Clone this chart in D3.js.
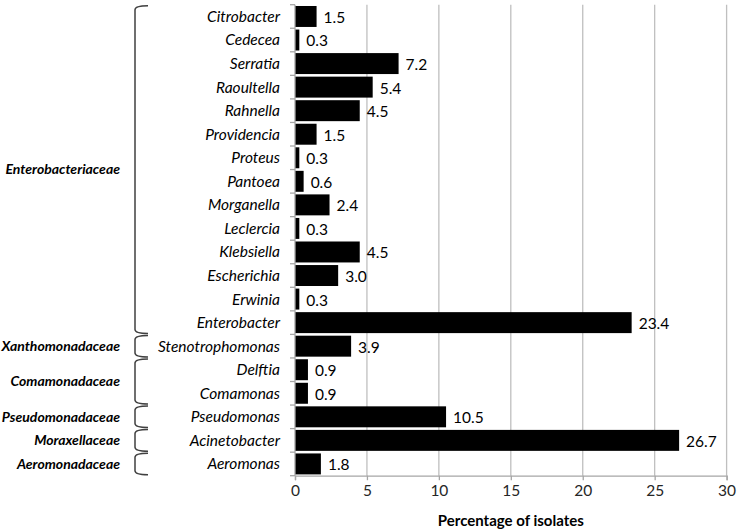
<!DOCTYPE html>
<html>
<head>
<meta charset="utf-8">
<script src="https://cdn.jsdelivr.net/npm/d3@7"></script>
<style>
  body { margin: 0; background: #fff; }
  svg { display: block; font-family: Lato, "Open Sans", sans-serif; }
</style>
</head>
<body>
<svg id="chart" width="737" height="531"></svg>
<script>
// Genera, top to bottom, and their percentage of isolates
const genera = [
  'Citrobacter', 'Cedecea', 'Serratia', 'Raoultella', 'Rahnella', 'Providencia',
  'Proteus', 'Pantoea', 'Morganella', 'Leclercia', 'Klebsiella', 'Escherichia',
  'Erwinia', 'Enterobacter', 'Stenotrophomonas', 'Delftia', 'Comamonas',
  'Pseudomonas', 'Acinetobacter', 'Aeromonas'
];
const percentages = [
  1.5, 0.3, 7.2, 5.4, 4.5, 1.5, 0.3, 0.6, 2.4, 0.3, 4.5, 3.0,
  0.3, 23.4, 3.9, 0.9, 0.9, 10.5, 26.7, 1.8
];
const valueLabels = [
  '1.5', '0.3', '7.2', '5.4', '4.5', '1.5', '0.3', '0.6', '2.4', '0.3', '4.5', '3.0',
  '0.3', '23.4', '3.9', '0.9', '0.9', '10.5', '26.7', '1.8'
];

// Families and how many genera (consecutive rows) each covers
const families = [
  'Enterobacteriaceae', 'Xanthomonadaceae', 'Comamonadaceae',
  'Pseudomonadaceae', 'Moraxellaceae', 'Aeromonadaceae'
];
const familySizes = [14, 1, 2, 1, 1, 1];

const xTicks = [0, 5, 10, 15, 20, 25, 30];
const xTitle = 'Percentage of isolates';

const svg = d3.select('#chart');
const margin = { top: 4.7, right: 10, bottom: 55.3, left: 295 };
const width = 737, height = 531;
const plotRight = 726.6;
const plotBottom = height - margin.bottom;

const x = d3.scaleLinear()
  .domain([0, 30])
  .range([margin.left, plotRight]);

const y = d3.scaleBand()
  .domain(genera)
  .range([margin.top, plotBottom])
  .paddingInner(0.11)
  .paddingOuter(0.055);

const step = y.step();
const rowTop = i => margin.top + i * step;

// Vertical gridlines
svg.append('g')
  .selectAll('line')
  .data(xTicks.filter(d => d > 0))
  .enter()
  .append('line')
  .attr('x1', d => x(d))
  .attr('x2', d => x(d))
  .attr('y1', margin.top)
  .attr('y2', plotBottom)
  .attr('stroke', '#bfbfbf')
  .attr('stroke-width', 1.3);

// Bars
svg.append('g')
  .selectAll('rect')
  .data(genera)
  .enter()
  .append('rect')
  .attr('x', x(0))
  .attr('y', d => y(d))
  .attr('width', (d, i) => x(percentages[i]) - x(0))
  .attr('height', y.bandwidth())
  .attr('fill', '#000');

// Value labels
svg.append('g')
  .selectAll('text')
  .data(genera)
  .enter()
  .append('text')
  .attr('x', (d, i) => x(percentages[i]) + 7)
  .attr('y', d => y(d) + y.bandwidth() / 2 + 1)
  .attr('dy', '0.35em')
  .attr('font-size', '15.5px')
  .attr('fill', '#000')
  .text((d, i) => valueLabels[i]);

// Bottom axis
const xAxis = svg.append('g')
  .attr('transform', `translate(0, ${plotBottom})`)
  .call(d3.axisBottom(x).tickValues(xTicks).tickSize(4.5).tickPadding(5));
xAxis.select('.domain').attr('stroke', '#a6a6a6').attr('stroke-width', 1.3);
xAxis.selectAll('.tick line').attr('stroke', '#a6a6a6').attr('stroke-width', 1.3);
xAxis.selectAll('.tick text')
  .attr('font-size', '15.5px')
  .attr('font-family', 'Lato, "Open Sans", sans-serif')
  .attr('fill', '#262626');

// Left axis line with ticks at row boundaries
svg.append('line')
  .attr('x1', x(0)).attr('x2', x(0))
  .attr('y1', margin.top).attr('y2', plotBottom)
  .attr('stroke', '#a6a6a6')
  .attr('stroke-width', 1.3);

svg.append('g')
  .selectAll('line')
  .data(d3.range(genera.length + 1))
  .enter()
  .append('line')
  .attr('x1', x(0) - 5)
  .attr('x2', x(0))
  .attr('y1', i => rowTop(i))
  .attr('y2', i => rowTop(i))
  .attr('stroke', '#a6a6a6')
  .attr('stroke-width', 1.3);

// Genus labels
svg.append('g')
  .selectAll('text')
  .data(genera)
  .enter()
  .append('text')
  .attr('x', 280)
  .attr('y', d => y(d) + y.bandwidth() / 2)
  .attr('dy', '0.35em')
  .attr('text-anchor', 'end')
  .attr('font-size', '15.5px')
  .attr('font-style', 'italic')
  .attr('fill', '#000')
  .text(d => d);

// Family brackets and labels
let start = 0;
families.forEach((fam, k) => {
  const end = start + familySizes[k];
  const y0 = rowTop(start) + 1;
  const y1 = rowTop(end) - 1;
  const bx = 135, ex = 148;

  svg.append('path')
    .attr('d', `M${ex},${y0} Q${bx},${y0} ${bx},${y0 + 4} L${bx},${y1 - 4} Q${bx},${y1} ${ex},${y1}`)
    .attr('fill', 'none')
    .attr('stroke', '#404040')
    .attr('stroke-width', 1.5);

  svg.append('text')
    .attr('x', 120)
    .attr('y', (y0 + y1) / 2)
    .attr('dy', '0.35em')
    .attr('text-anchor', 'end')
    .attr('font-size', '14px')
    .attr('font-weight', 'bold')
    .attr('font-style', 'italic')
    .attr('fill', '#000')
    .text(fam);

  start = end;
});

// Axis title
svg.append('text')
  .attr('x', (x(0) + plotRight) / 2)
  .attr('y', 521)
  .attr('dy', '0.35em')
  .attr('text-anchor', 'middle')
  .attr('font-size', '15px')
  .attr('font-weight', 'bold')
  .attr('fill', '#000')
  .text(xTitle);
</script>
</body>
</html>
